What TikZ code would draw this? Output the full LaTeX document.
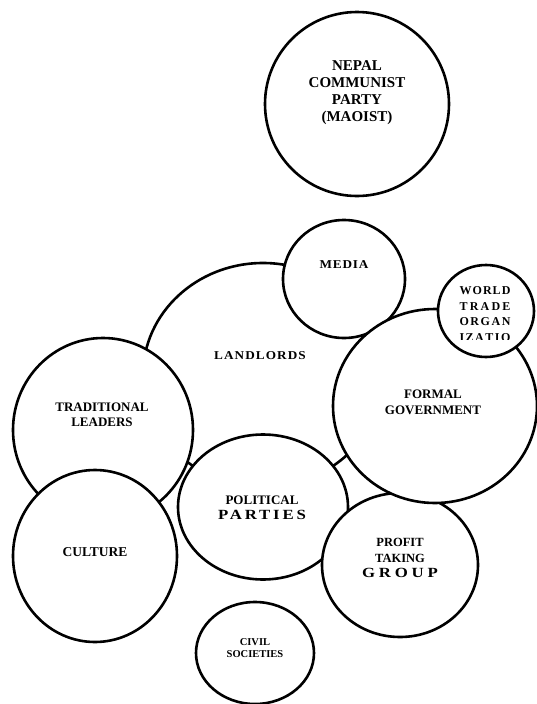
\documentclass[tikz,border=0pt]{standalone}
\usepackage{fontspec}
\setmainfont{Liberation Serif}
\usetikzlibrary{shapes.geometric}
\tikzset{bubble/.style={ellipse, draw=black, fill=white, line width=2.6pt, inner sep=0pt},
         tag/.style={align=center, inner sep=0pt, font=\bfseries}}
% wide, letter-spaced bold text
\newcommand{\spaced}[3]{\addfontfeatures{FakeStretch=#1, LetterSpace=#2}#3}

\begin{document}
\begin{tikzpicture}[x=1pt, y=-1pt]
        \clip (0,0) rectangle (537,704);
        % Party on its own
        \node[bubble, minimum width=184pt, minimum height=184pt] (ncp) at (357,104) {};
        \node[tag, font=\bfseries\fontsize{15}{17}\selectfont] (ncp text) at (357,93) {NEPAL\\COMMUNIST\\PARTY\\(MAOIST)};
        % Bubbles, back to front
        \node[bubble, minimum width=240pt, minimum height=224pt] (landlords) at (263,375) {};
        \node[tag, font=\bfseries\fontsize{12}{14}\selectfont\spaced{1.1}{9}{}] (landlords text) at (260,356) {LANDLORDS};
        \node[bubble, minimum width=122pt, minimum height=118pt] (media) at (344,279) {};
        \node[tag, font=\bfseries\fontsize{12}{14}\selectfont\spaced{1.1}{7}{}] (media text) at (344,265) {MEDIA};
        \node[bubble, minimum width=180pt, minimum height=184pt] (leaders) at (103,430) {};
        \node[tag, font=\bfseries\fontsize{13}{15}\selectfont] (leaders text) at (102,415) {TRADITIONAL\\LEADERS};
        \node[bubble, minimum width=164pt, minimum height=172pt] (culture) at (95,556) {};
        \node[tag, font=\bfseries\fontsize{13.5}{15}\selectfont] (culture text) at (95,552) {CULTURE};
        \node[bubble, minimum width=170pt, minimum height=145pt] (parties) at (263,507) {};
        \node[tag, font=\bfseries\fontsize{13}{15}\selectfont] (parties text) at (262,508)
            {POLITICAL\\{\fontsize{14}{15}\selectfont\spaced{1.2}{20}{PARTIES}}};
        \node[bubble, minimum width=156pt, minimum height=144pt] (profit) at (400,565) {};
        \node[tag, font=\bfseries\fontsize{12.5}{15.5}\selectfont] (profit text) at (400,558)
            {PROFIT\\TAKING\\{\fontsize{14}{15.5}\selectfont\spaced{1.2}{27}{GROUP}}};
        \node[bubble, minimum width=204pt, minimum height=194pt] (government) at (435,406) {};
        \node[tag, font=\bfseries\fontsize{13}{16}\selectfont] (government text) at (433,402) {FORMAL\\GOVERNMENT};
        \node[bubble, minimum width=96pt, minimum height=92pt] (wto) at (486,311) {};
        \begin{scope}
            \clip (430,250) rectangle (540,339);
            \node[tag, font=\bfseries\fontsize{12}{15.5}\selectfont] (wto text) at (485,314)
                {\makebox[51pt][s]{W\hfil O\hfil R\hfil L\hfil D}\\
                 \makebox[51pt][s]{T\hfil R\hfil A\hfil D\hfil E}\\
                 \makebox[51pt][s]{O\hfil R\hfil G\hfil A\hfil N}\\
                 \makebox[51pt][s]{I\hfil Z\hfil A\hfil T\hfil I\hfil O}};
        \end{scope}
        \node[bubble, minimum width=118pt, minimum height=102pt] (civil) at (255,653) {};
        \node[tag, font=\bfseries\fontsize{10.5}{11.5}\selectfont] (civil text) at (255,648) {CIVIL\\SOCIETIES};
\end{tikzpicture}
\end{document}
